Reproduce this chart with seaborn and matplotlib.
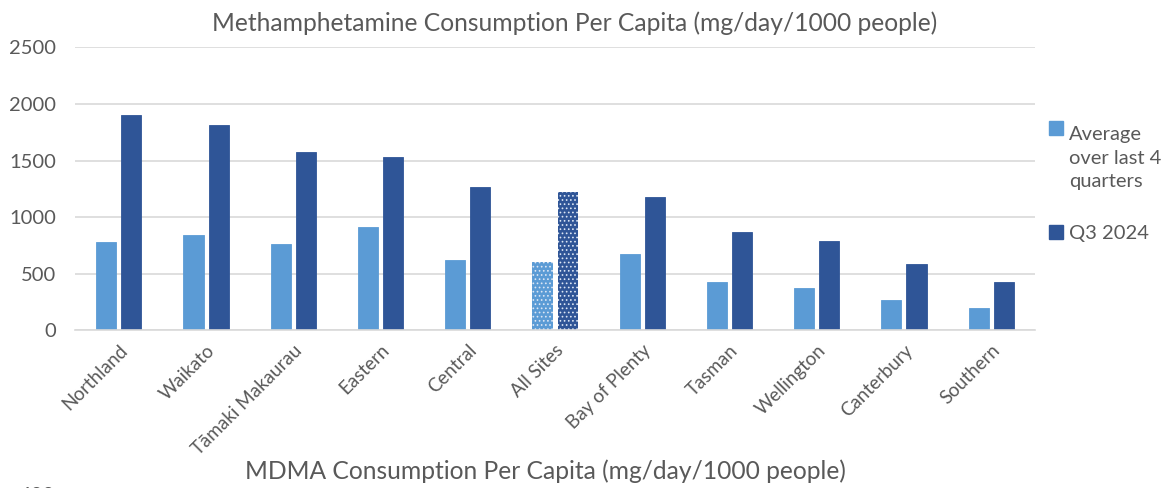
import matplotlib
matplotlib.use("Agg")
import matplotlib.pyplot as plt
from matplotlib.patches import Rectangle
from matplotlib.legend_handler import HandlerPatch
import seaborn as sns
import pandas as pd

regions = ["Northland", "Waikato", "Tāmaki Makaurau", "Eastern", "Central", "All Sites",
           "Bay of Plenty", "Tasman", "Wellington", "Canterbury", "Southern"]
avg_last4 = [780, 840, 762, 910, 620, 605, 675, 425, 378, 270, 200]
q3_2024 = [1900, 1812, 1572, 1528, 1263, 1222, 1178, 868, 792, 586, 424]
series_names = ["Average\nover last 4\nquarters", "Q3 2024"]
yticks = [0, 500, 1000, 1500, 2000, 2500]

df = pd.DataFrame({
    "Region": regions * 2,
    "Value": avg_last4 + q3_2024,
    "Series": [series_names[0]] * len(regions) + [series_names[1]] * len(regions),
})

light_blue = "#5B9BD5"
dark_blue = "#2F5597"
text_grey = "#595959"
grid_grey = "#D9D9D9"
legend_size = 14.5
legend_linespacing = 1.49

sns.set_style("white")
plt.rcParams["font.family"] = ["Lato", "DejaVu Sans"]
plt.rcParams["hatch.color"] = "#DCE6F4"
plt.rcParams["hatch.linewidth"] = 0.7

fig = plt.figure(figsize=(11.66, 4.88), dpi=100)
ax = fig.add_axes([0.0645, 0.323, 0.823, 0.58])

sns.barplot(data=df, x="Region", y="Value", hue="Series", order=regions,
            hue_order=series_names, palette=[light_blue, dark_blue],
            width=0.575, gap=0.2, ax=ax, legend=True, saturation=1)

# the national "All Sites" bars are drawn with a dotted fill
for container in ax.containers:
    for bar, name in zip(container, regions):
        bar.set_edgecolor(bar.get_facecolor())
        bar.set_linewidth(0.6)
        if name == "All Sites":
            bar.set_hatch("....")
            bar.set_edgecolor("#DCE6F4")
            bar.set_linewidth(0)

ax.set_ylim(0, 2500)
ax.set_yticks(yticks)
ax.set_yticklabels([str(t) for t in yticks], fontsize=14.5, color=text_grey)
ax.yaxis.grid(True, color=grid_grey, linewidth=1.2)
ax.set_axisbelow(True)
for side in ["left", "right", "top"]:
    ax.spines[side].set_visible(False)
ax.spines["bottom"].set_color(grid_grey)
ax.spines["bottom"].set_linewidth(1.2)
ax.tick_params(axis="y", length=0, pad=14)
ax.tick_params(axis="x", length=0, pad=8)
ax.set_xlim(-0.5, len(regions) - 0.5)
ax.set_xticks(range(len(regions)))
ax.set_xticklabels(regions, rotation=45, ha="right", rotation_mode="anchor",
                   fontsize=13.5, color=text_grey)
ax.set_xlabel("")
ax.set_ylabel("")


def top_line_key(legend, orig_handle, xdescent, ydescent, width, height, fontsize):
    # key square sits beside the first line of a three-line label
    return Rectangle((-xdescent, -ydescent + legend_linespacing * fontsize), width, height)


handles, labels = ax.get_legend_handles_labels()
leg = ax.legend(handles, labels, loc="upper left", bbox_to_anchor=(1.0, 0.773),
                frameon=False, fontsize=legend_size, handlelength=0.7,
                handleheight=0.7, handletextpad=0.3, labelspacing=1.72,
                labelcolor=text_grey, borderpad=0.2,
                handler_map={handles[0]: HandlerPatch(patch_func=top_line_key)})
for txt in leg.get_texts():
    txt.set_multialignment("left")
    txt.set_linespacing(legend_linespacing)
for h, c in zip(leg.legend_handles, [light_blue, dark_blue]):
    h.set_facecolor(c)
    h.set_edgecolor(c)

fig.text(0.493, 0.953, "Methamphetamine Consumption Per Capita (mg/day/1000 people)",
         ha="center", va="center", fontsize=17.7, color=text_grey)
fig.text(0.468, 0.035, "MDMA Consumption Per Capita (mg/day/1000 people)",
         ha="center", va="center", fontsize=17.7, color=text_grey)
fig.text(0.047, -0.015, "600", ha="right", va="center", fontsize=14.5, color=text_grey)

fig.savefig("out.png", dpi=100)
